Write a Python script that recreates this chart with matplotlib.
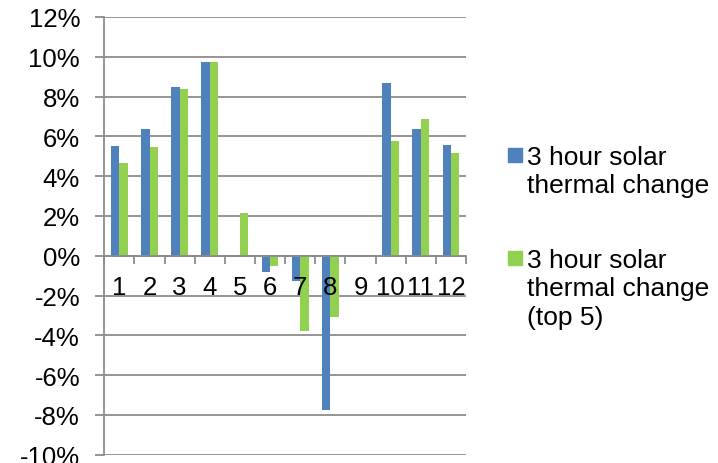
import matplotlib
matplotlib.use("Agg")
import matplotlib.pyplot as plt
from matplotlib.ticker import FuncFormatter, FixedLocator
from matplotlib.patches import Rectangle
import numpy as np

plt.rcParams['font.family'] = ['Liberation Sans', 'DejaVu Sans']

months = [1, 2, 3, 4, 5, 6, 7, 8, 9, 10, 11, 12]
# percent change per month
solar_3h = [5.53, 6.37, 8.46, 9.73, 0.0, -0.84, -1.26, -7.74, 0.0, 8.69, 6.37, 5.55]
solar_3h_top5 = [4.66, 5.46, 8.39, 9.73, 2.13, -0.53, -3.77, -3.07, 0.0, 5.78, 6.87, 5.16]
labels = ["3 hour solar\nthermal change", "3 hour solar\nthermal change\n(top 5)"]

blue = "#4F81BD"
green = "#92D050"
grid_c = "#8C8C8C"
fs = 18.5

fig = plt.figure(figsize=(7.18, 4.64), dpi=100)
ax = fig.add_axes([0.1453, 0.0179, 0.5038, 0.9435])

x = np.array(months)
w = 0.277
ax.bar(x - w / 2, solar_3h, width=w, color=blue, zorder=2)
ax.bar(x + w / 2, solar_3h_top5, width=w, color=green, zorder=2)

ax.set_xlim(0.5, 12.5)
ax.set_ylim(-10, 12)
yt = np.arange(-10, 13, 2)
ax.set_yticks(yt)
ax.yaxis.set_major_formatter(FuncFormatter(lambda v, p: "%d%%" % v))
# gridlines under the bars, axis (ticks + labels) over them
ax.set_axisbelow(False)
for yv in yt:
    ax.axhline(yv, color=grid_c, lw=1.3, zorder=1)

for s in ['top', 'right']:
    ax.spines[s].set_visible(False)
ax.spines['bottom'].set_position(('data', 0))
ax.spines['bottom'].set_color(grid_c)
ax.spines['bottom'].set_linewidth(1.3)
ax.spines['left'].set_color(grid_c)
ax.spines['left'].set_linewidth(1.3)

ax.set_xticks(x)
ax.set_xticklabels([str(m) for m in months])
ax.xaxis.set_minor_locator(FixedLocator(np.arange(0.5, 13, 1)))
ax.tick_params(axis='x', which='major', length=0, pad=14, labelsize=fs)
ax.tick_params(axis='x', which='minor', length=5.5, width=1.3, color=grid_c, direction='out')
ax.tick_params(axis='y', length=6.5, width=1.3, color=grid_c, pad=11, labelsize=fs)

# legend drawn by hand so the square sits by the first line
for i, (lab, col) in enumerate(zip(labels, [blue, green])):
    yb = [165, 268][i]
    fig.patches.append(Rectangle((508 / 718, 1 - 163 / 464 + (165 - yb) / 464), 14 / 718, 14 / 464,
                                 transform=fig.transFigure, color=col))
    for k, line in enumerate(lab.split("\n")):
        fig.text(527 / 718, 1 - (yb + k * 28.5) / 464, line, fontsize=19,
                 va='baseline', ha='left')

fig.savefig("out.png", dpi=100)
